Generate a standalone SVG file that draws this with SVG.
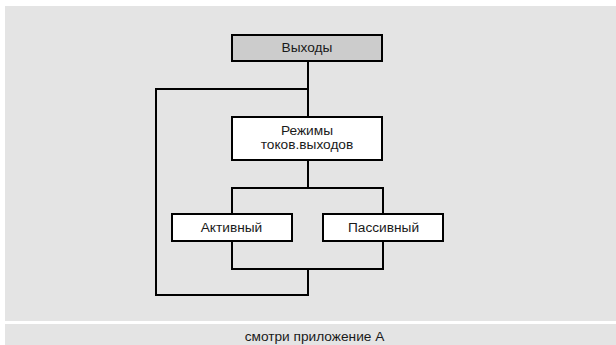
<svg xmlns="http://www.w3.org/2000/svg" width="616" height="345" viewBox="0 0 616 345">
<style>
.bg{fill:#e4e4e4}
.box{fill:#ffffff;stroke:#000;stroke-width:2}
.hdr{fill:#cccccc;stroke:#000;stroke-width:2}
.ln{fill:none;stroke:#000;stroke-width:2}
text{font-family:"Liberation Sans",Arial,sans-serif;font-size:13.7px;fill:#1a1a1a;text-anchor:middle}
</style>
<rect width="616" height="345" fill="#ffffff"/>
<rect class="bg" x="5" y="6" width="611" height="315"/>
<rect class="bg" x="5" y="324" width="611" height="21"/>
<g id="connectors">
<path class="ln" d="M308 61V116"/>
<path class="ln" d="M308 89H156V295H308V269"/>
<path class="ln" d="M308 160V188"/>
<path class="ln" d="M232 213V188H383V213"/>
<path class="ln" d="M232 241V269H383V241"/>
</g>
<g id="outputs">
<rect class="hdr" x="232" y="35" width="150" height="26"/>
<text x="307" y="52">Выходы</text>
</g>
<g id="modes">
<rect class="box" x="232" y="117" width="150" height="43"/>
<text x="307" y="135">Режимы</text>
<text x="307" y="148.5">токов.выходов</text>
</g>
<g id="active">
<rect class="box" x="172" y="214" width="120" height="27"/>
<text x="231.5" y="232">Активный</text>
</g>
<g id="passive">
<rect class="box" x="323" y="214" width="120" height="27"/>
<text x="383.5" y="232">Пассивный</text>
</g>
<text x="314.5" y="340.5">смотри приложение А</text>
</svg>
